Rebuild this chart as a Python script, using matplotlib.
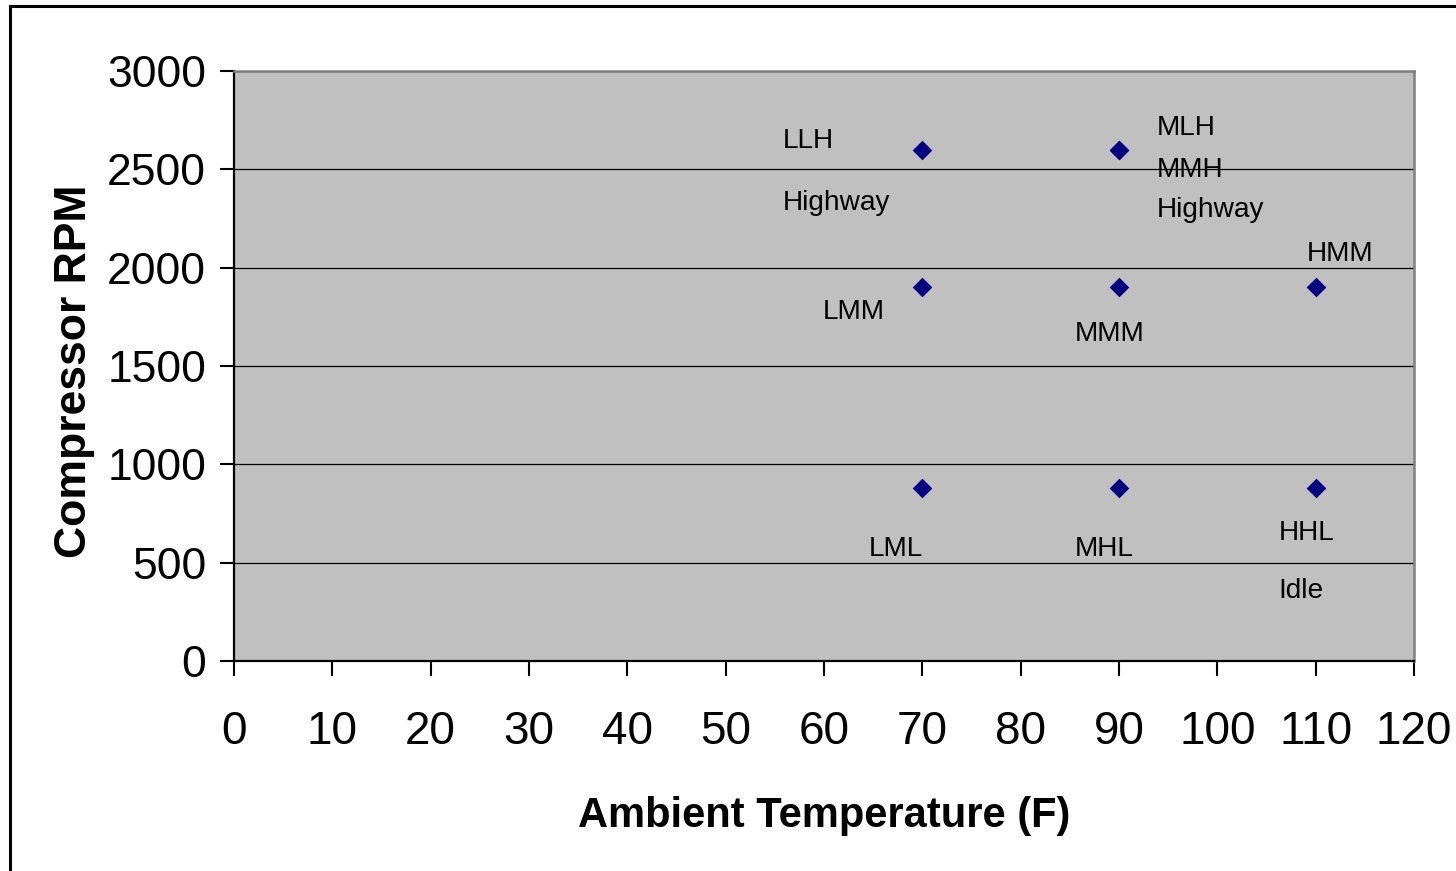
import matplotlib
matplotlib.use("Agg")
import matplotlib.pyplot as plt
from matplotlib.lines import Line2D

# ---- data ----
temps = [70, 90, 90, 70, 90, 110, 70, 90, 110]
rpms = [2600, 2600, 2600, 1900, 1900, 1900, 880, 880, 880]
x_ticks = [0, 10, 20, 30, 40, 50, 60, 70, 80, 90, 100, 110, 120]
y_ticks = [0, 500, 1000, 1500, 2000, 2500, 3000]
label_texts = ["LLH", "Highway", "MLH", "MMH", "Highway", "HMM",
               "LMM", "MMM", "LML", "MHL", "HHL", "Idle"]
x_title = "Ambient Temperature (F)"
y_title = "Compressor RPM"

# ---- layout (label anchor positions, baseline-left) ----
label_pos = [(55.8, 2608), (55.8, 2293), (93.8, 2675), (93.8, 2461), (93.8, 2258),
             (109.1, 2034), (59.9, 1739), (85.5, 1627), (64.6, 534), (85.5, 534),
             (106.2, 615), (106.2, 320)]

FONT = "Liberation Sans"
W, H = 1456, 871
fig = plt.figure(figsize=(W / 100, H / 100), dpi=100)
fig.patch.set_facecolor("white")

ax = fig.add_axes([234 / W, 1 - 661 / H, (1414 - 234) / W, (661 - 71) / H])
ax.set_facecolor("#C0C0C0")

ax.scatter(temps, rpms, marker="D", s=100, color="#000080", zorder=3, linewidths=0)

for t, (px, py) in zip(label_texts, label_pos):
    ax.text(px, py, t, ha="left", va="baseline", fontsize=20.2, family=FONT, color="black", zorder=4)

ax.set_xlim(0, 120)
ax.set_ylim(0, 3000)
ax.set_xticks(x_ticks)
ax.set_yticks(y_ticks)
ax.set_xticklabels([str(v) for v in x_ticks], family=FONT, fontsize=33)
ax.set_yticklabels([str(v) for v in y_ticks], family=FONT, fontsize=32)
ax.tick_params(axis="x", direction="out", length=11, width=1.5, pad=24, color="black")
ax.tick_params(axis="y", direction="out", length=10, width=1.5, pad=10, color="black")

ax.yaxis.grid(True, color="black", linewidth=0.9)
ax.set_axisbelow(True)

for s in ["left", "bottom"]:
    ax.spines[s].set_color("black")
    ax.spines[s].set_linewidth(1.6)
for s in ["top", "right"]:
    ax.spines[s].set_color("#808080")
    ax.spines[s].set_linewidth(1.8)

ax.set_xlabel(x_title, family=FONT, fontweight="bold", fontsize=30, va="center")
ax.xaxis.set_label_coords(0.5, -0.262)
ax.set_ylabel(y_title, family=FONT, fontweight="bold", fontsize=32, va="center", ha="center")
ax.yaxis.set_label_coords(-0.135, 0.4915)

# outer frame (top and left edges visible)
fig.add_artist(Line2D([10 / W, 10 / W], [1 - 6.5 / H, -0.1], color="black", linewidth=2.2,
                      transform=fig.transFigure))
fig.add_artist(Line2D([10 / W, 1.1], [1 - 6.5 / H, 1 - 6.5 / H], color="black", linewidth=2.2,
                      transform=fig.transFigure))

fig.savefig("out.png", dpi=100, facecolor="white")
